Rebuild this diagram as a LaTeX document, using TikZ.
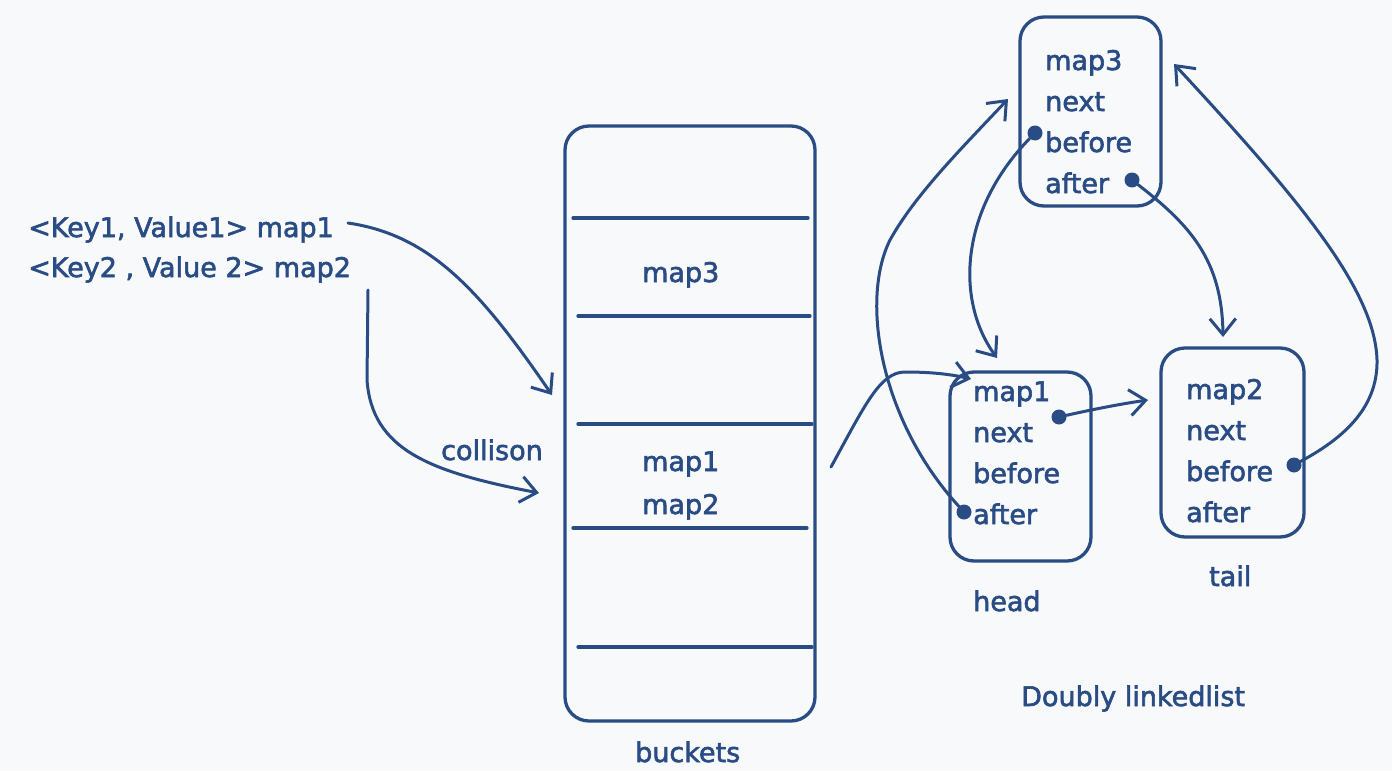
\documentclass[tikz,border=0pt]{standalone}
\usepackage{fontspec}
\newfontfamily\handfont{DejaVu Sans}[FakeBold=2.2]
\usetikzlibrary{arrows.meta}
\definecolor{ink}{RGB}{42,76,133}
\definecolor{bg}{RGB}{248,249,251}
\begin{document}
\begin{tikzpicture}[x=1pt,y=-1pt,
  every node/.style={text=ink,font=\handfont\fontsize{27}{30}\selectfont,inner sep=0pt},
  lbl/.style={anchor=base west},
  box/.style={draw=ink,line width=3.3pt,rounded corners=24pt,minimum width=#1},
  conn/.style={draw=ink,line width=3pt,line cap=round,-{Straight Barb[length=16pt,width=26pt,line width=3pt]}},
  sep/.style={draw=ink,line width=3.3pt,line cap=round},
  dot/.style={circle,fill=ink,minimum size=15pt}
]
\useasboundingbox[fill=bg] (0,0) rectangle (1392,771);

% left texts
\node[lbl] (kv1) at (28,237) {<Key1, Value1> map1};
\node[lbl] (kv2) at (28,277) {<Key2 , Value 2> map2};
\node[lbl] (col) at (441,460) {collison};

% buckets
\node[box=250pt,minimum height=595pt] (bk) at (690,423.5) {};
\draw[sep] (573,218) -- (808,218);
\draw[sep] (578,316) -- (810,316);
\draw[sep] (578,424) -- (812,424);
\draw[sep] (573,528) -- (807,528);
\draw[sep] (578,647) -- (812,647);
\node[lbl] (bm3) at (642,282) {map3};
\node[lbl] (bm1) at (642,471) {map1};
\node[lbl] (bm2) at (642,514) {map2};
\node[lbl] (bkl) at (635,762) {buckets};

% map3 node
\node[box=141pt,minimum height=189pt] (n3) at (1090.5,111.5) {};
\node[lbl] (n3a) at (1045,70) {map3};
\node[lbl] (n3b) at (1045,111) {next};
\node[lbl] (n3c) at (1045,152) {before};
\node[lbl] (n3d) at (1045,193) {after};

% head node
\node[box=141pt,minimum height=189pt] (hd) at (1020.5,466.5) {};
\node[lbl] (hda) at (973,401) {map1};
\node[lbl] (hdb) at (973,442) {next};
\node[lbl] (hdc) at (973,483) {before};
\node[lbl] (hdd) at (973,524) {after};
\node[lbl] (hlab) at (973,611) {head};

% tail node
\node[box=143pt,minimum height=189pt] (tl) at (1232.5,442.5) {};
\node[lbl] (tla) at (1186,399) {map2};
\node[lbl] (tlb) at (1186,440) {next};
\node[lbl] (tlc) at (1186,481) {before};
\node[lbl] (tld) at (1186,522) {after};
\node[lbl] (tlab) at (1209,586) {tail};

\node[lbl] (dll) at (1021,706) {Doubly linkedlist};

% dots
\node[dot] (d3b) at (1035,133) {};
\node[dot] (d3a) at (1132,180) {};
\node[dot] (dhn) at (1059,417) {};
\node[dot] (dha) at (964,512) {};
\node[dot] (dtb) at (1294,465) {};

% free ends
\coordinate (a1s) at (348,223);
\coordinate (a1e) at (552,395);
\coordinate (a2s) at (368,290);
\coordinate (a2e) at (539,493);
\coordinate (a3s) at (831,467);
\coordinate (a3e) at (971,379);
\coordinate (a4e) at (1008,99);
\coordinate (a5e) at (997,358);
\coordinate (a6e) at (1223,337);
\coordinate (a7e) at (1174,64);
\coordinate (a8e) at (1148,400);

% connectors
\draw[conn] (a1s) .. controls (430,235) and (480,290) .. (a1e);
\draw[conn] (a2s) -- (367,380) .. controls (372,450) and (430,472) .. (a2e);
\draw[conn] (a3s) .. controls (865,405) and (880,372) .. (905,372) .. controls (930,372) and (950,374) .. (a3e);
\draw[conn] (dha) .. controls (880,420) and (860,300) .. (890,240) .. controls (915,195) and (960,150) .. (a4e);
\draw[conn] (d3b) .. controls (960,210) and (955,300) .. (a5e);
\draw[conn] (d3a) .. controls (1190,225) and (1222,260) .. (a6e);
\draw[conn] (dtb) .. controls (1340,440) and (1378,410) .. (1377,360) .. controls (1375,290) and (1300,200) .. (a7e);
\draw[conn] (dhn) .. controls (1090,410) and (1120,404) .. (a8e);
\end{tikzpicture}
\end{document}
